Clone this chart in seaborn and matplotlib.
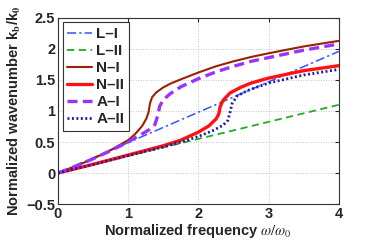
import matplotlib
matplotlib.use("Agg")
import matplotlib.pyplot as plt
import seaborn as sns
import pandas as pd

# ---- data ----
li_x = [0, 4]
li_y = [0, 1.96]
lii_x = [0, 4]
lii_y = [0, 1.10]
ni_x = [0, 0.25, 0.5, 0.75, 1.0, 1.1, 1.2, 1.26, 1.29, 1.31, 1.34, 1.4, 1.5, 1.6, 1.75, 2.0, 2.25, 2.5, 2.75, 3.0, 3.5, 4.0]
ni_y = [0, 0.11, 0.23, 0.37, 0.53, 0.63, 0.76, 0.88, 0.98, 1.12, 1.22, 1.30, 1.38, 1.44, 1.51, 1.62, 1.72, 1.80, 1.87, 1.93, 2.04, 2.13]
nii_x = [0, 0.5, 1.0, 1.5, 1.75, 2.0, 2.15, 2.25, 2.29, 2.31, 2.35, 2.45, 2.6, 2.75, 3.0, 3.5, 4.0]
nii_y = [0, 0.14, 0.29, 0.44, 0.53, 0.66, 0.76, 0.87, 0.95, 1.07, 1.17, 1.29, 1.38, 1.45, 1.53, 1.65, 1.73]
ai_x = [0, 0.25, 0.5, 0.75, 1.0, 1.1, 1.2, 1.3, 1.38, 1.42, 1.45, 1.5, 1.6, 1.75, 2.0, 2.25, 2.5, 2.75, 3.0, 3.5, 4.0]
ai_y = [0, 0.11, 0.23, 0.36, 0.50, 0.57, 0.63, 0.70, 0.78, 0.92, 1.08, 1.18, 1.28, 1.39, 1.52, 1.63, 1.72, 1.80, 1.86, 1.98, 2.08]
aii_x = [0, 0.5, 1.0, 1.5, 1.75, 2.0, 2.2, 2.35, 2.42, 2.45, 2.48, 2.55, 2.7, 2.9, 3.0, 3.5, 4.0]
aii_y = [0, 0.14, 0.28, 0.42, 0.50, 0.59, 0.68, 0.77, 0.85, 0.98, 1.12, 1.24, 1.33, 1.41, 1.45, 1.58, 1.67]

labels = ["L–I", "L–II", "N–I", "N–II", "A–I", "A–II"]
xticks = [0, 1, 2, 3, 4]
yticks = [-0.5, 0, 0.5, 1, 1.5, 2, 2.5]
ytick_labels = ["−0.5", "0", "0.5", "1", "1.5", "2", "2.5"]

series = [
    (li_x, li_y, dict(color="#3355ff", linestyle=(0, (6, 2, 1.5, 2)), linewidth=1.1)),
    (lii_x, lii_y, dict(color="#22aa22", linestyle=(0, (4, 2.5)), linewidth=1.3)),
    (ni_x, ni_y, dict(color="#992200", linestyle="-", linewidth=1.5)),
    (nii_x, nii_y, dict(color="#ff1111", linestyle="-", linewidth=2.4)),
    (ai_x, ai_y, dict(color="#9933ff", linestyle=(0, (3, 1.6)), linewidth=2.4)),
    (aii_x, aii_y, dict(color="#1a1aaa", linestyle=(0, (0.7, 0.9)), linewidth=2.0)),
]

sns.set_style("white")
plt.rcParams["font.family"] = ["Liberation Sans", "DejaVu Sans"]
plt.rcParams["mathtext.fontset"] = "stix"

fig = plt.figure(figsize=(3.74, 2.45), dpi=100)
ax = fig.add_axes([0.155, 0.167, 0.751, 0.760])

for (xs, ys, st), lab in zip(series, labels):
    df = pd.DataFrame({"x": xs, "y": ys})
    sns.lineplot(data=df, x="x", y="y", ax=ax, label=lab, sort=False, **st)

ax.set_xlim(0, 4)
ax.set_ylim(-0.5, 2.5)
ax.set_xticks(xticks)
ax.set_xticklabels([str(t) for t in xticks], fontweight="bold", fontsize=10.5)
ax.set_yticks(yticks)
ax.set_yticklabels(ytick_labels, fontweight="bold", fontsize=10.5)
ax.tick_params(direction="in", length=3, width=0.8, pad=2, top=True, right=True)
ax.grid(True, linestyle=(0, (1, 2)), color="#b0b0b0", linewidth=0.6)
for s in ax.spines.values():
    s.set_color("#333333")
    s.set_linewidth(0.8)

ax.set_xlabel(r"Normalized frequency $\omega/\omega_0$", fontweight="bold", fontsize=10.5, labelpad=1)
ax.set_ylabel(r"Normalized wavenumber k$_\mathbf{b}$/k$_\mathbf{0}$", fontweight="bold", fontsize=10.5, labelpad=2)

leg = ax.legend(loc="upper left", prop={"weight": "bold", "size": 11}, frameon=True,
                fancybox=False, edgecolor="black", handlelength=1.6, handletextpad=0.3,
                borderpad=0.3, labelspacing=0.2, borderaxespad=0.3)
leg.get_frame().set_linewidth(0.8)

fig.savefig("out.png", dpi=100)
